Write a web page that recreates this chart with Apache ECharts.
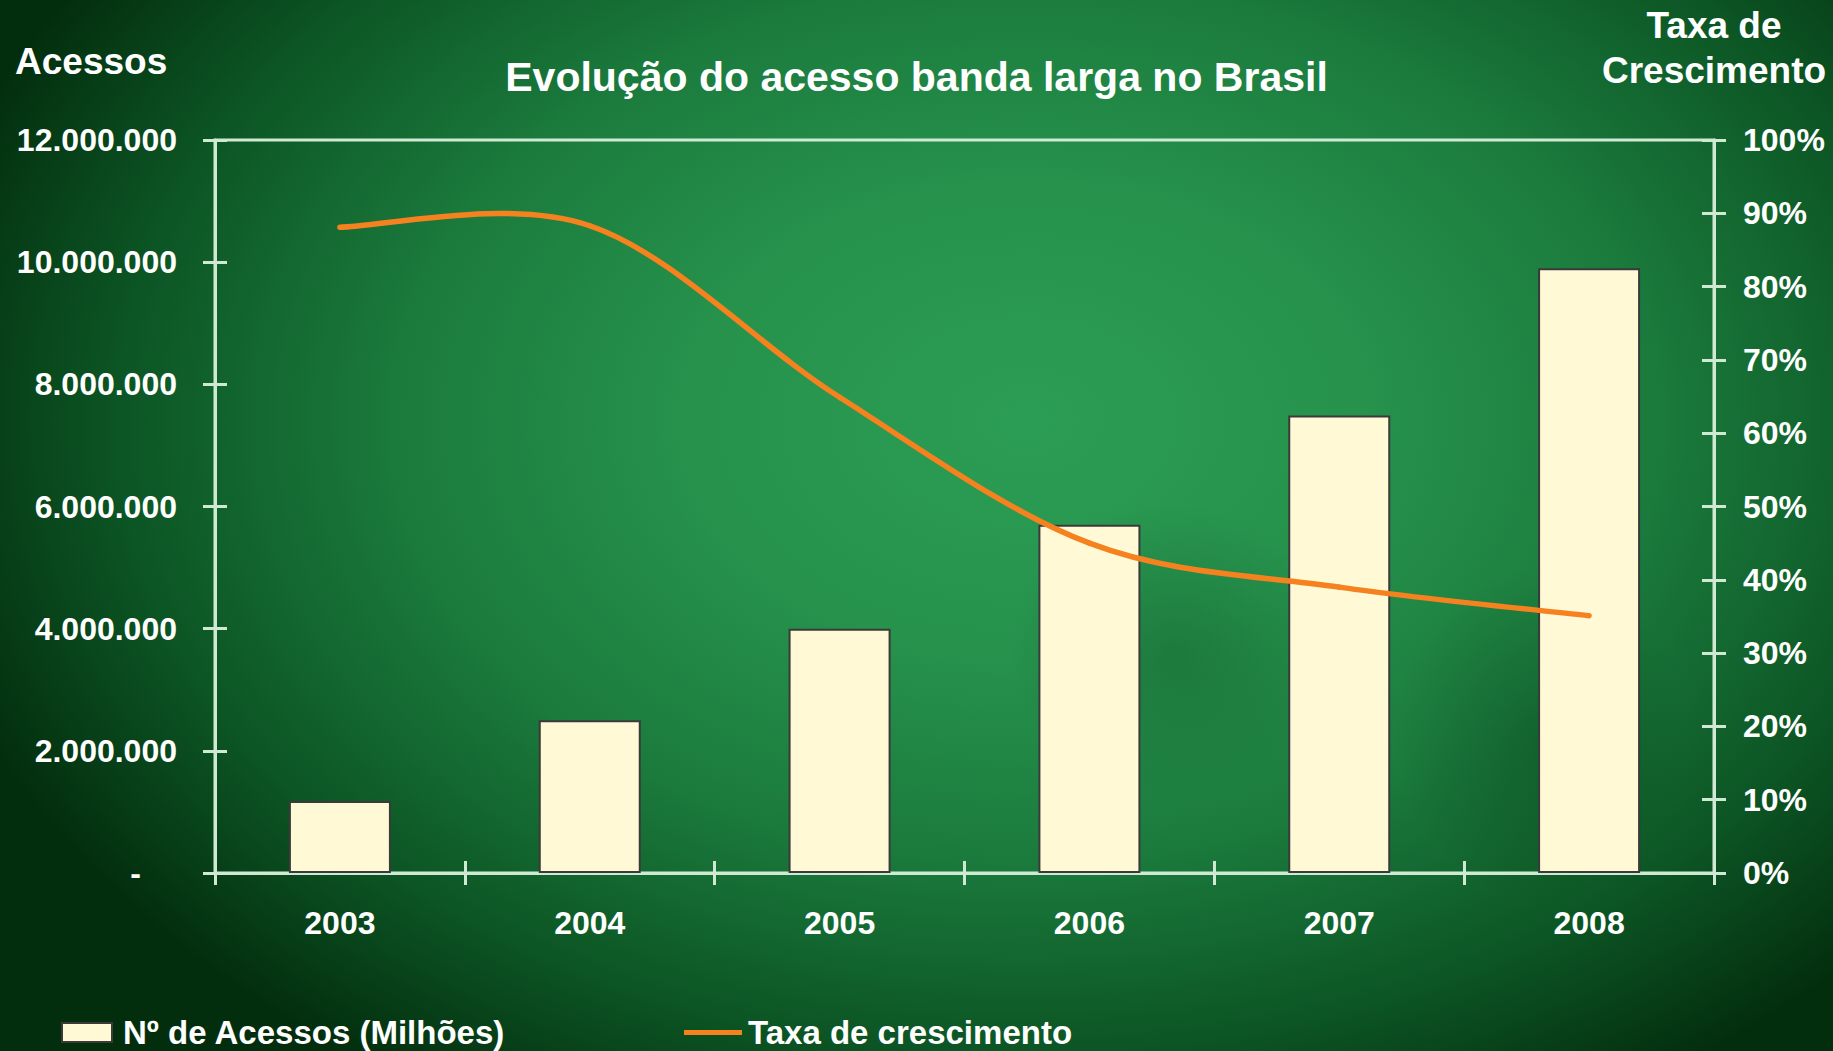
<!DOCTYPE html>
<html>
<head>
<meta charset="utf-8">
<script src="https://cdn.jsdelivr.net/npm/echarts@6/dist/echarts.min.js"></script>
<style>
html, body { margin: 0; padding: 0; }
#chart {
  width: 1833px; height: 1051px;
  background:
    radial-gradient(ellipse 9% 14% at 64% 62%, rgba(10,70,30,0.3) 0%, rgba(10,70,30,0) 100%),
    radial-gradient(ellipse 8% 16% at 84% 70%, rgba(8,60,25,0.3) 0%, rgba(8,60,25,0) 100%),
    radial-gradient(ellipse 62% 75% at 56% 40%, #2c9d54 0%, #26924c 30%, #1b7b3d 55%, #0c5524 80%, #032e0e 100%);
}
</style>
</head>
<body>
<div id="chart"></div>
<script>
// ---- data ----
var years = ['2003', '2004', '2005', '2006', '2007', '2008'];
var acessos = [1180000, 2500000, 4000000, 5700000, 7490000, 9900000];
var taxaCrescimento = [88.1, 88.3, 64.9, 45.0, 39.0, 35.1];
var leftTickLabels = ['-', '2.000.000', '4.000.000', '6.000.000', '8.000.000', '10.000.000', '12.000.000'];
var rightTickLabels = ['0%', '10%', '20%', '30%', '40%', '50%', '60%', '70%', '80%', '90%', '100%'];
var barName = 'Nº de Acessos (Milhões)';
var lineName = 'Taxa de crescimento';

var FONT = "'Liberation Sans', Arial, Helvetica, sans-serif";
var AXIS_COLOR = '#cfe9d3';
var LINE_COLOR = '#f5821f';

var chart = echarts.init(document.getElementById('chart'), null, { renderer: 'svg' });

function axisBase(extra) {
  return Object.assign({
    axisLine: { show: true, lineStyle: { color: AXIS_COLOR, width: 3 } },
    splitLine: { show: false }
  }, extra);
}

// Smoothed (Excel-like) line drawn segment by segment through the axis scales
function renderSmoothLine(params, api) {
  var n = taxaCrescimento.length;
  var i = params.dataIndex;
  if (i >= n - 1) return { type: 'group', children: [] };
  function pt(k) {
    k = Math.max(0, Math.min(n - 1, k));
    return api.coord([k, taxaCrescimento[k]]);
  }
  var p0 = pt(i - 1), p1 = pt(i), p2 = pt(i + 1), p3 = pt(i + 2);
  var c1x = p1[0] + (p2[0] - p0[0]) / 6, c1y = p1[1] + (p2[1] - p0[1]) / 6;
  var c2x = p2[0] - (p3[0] - p1[0]) / 6, c2y = p2[1] - (p3[1] - p1[1]) / 6;
  return {
    type: 'bezierCurve',
    shape: { x1: p1[0], y1: p1[1], x2: p2[0], y2: p2[1], cpx1: c1x, cpy1: c1y, cpx2: c2x, cpy2: c2y },
    style: { stroke: LINE_COLOR, lineWidth: 5.5, fill: null, lineCap: 'round', lineJoin: 'round' }
  };
}

var option = {
  backgroundColor: 'transparent',
  animation: false,
  title: {
    text: 'Evolução do acesso banda larga no Brasil',
    left: 'center',
    top: 56,
    padding: 0,
    textStyle: { color: '#ffffff', fontFamily: FONT, fontWeight: 'bold', fontSize: 41 }
  },
  graphic: [
    { type: 'text', x: 15, y: 61, style: { text: 'Acessos', fill: '#ffffff', font: 'bold 37px ' + FONT, textAlign: 'left', textVerticalAlign: 'middle' } },
    { type: 'text', x: 1714, y: 25.5, style: { text: 'Taxa de', fill: '#ffffff', font: 'bold 37px ' + FONT, textAlign: 'center', textVerticalAlign: 'middle' } },
    { type: 'text', x: 1714, y: 70, style: { text: 'Crescimento', fill: '#ffffff', font: 'bold 37px ' + FONT, textAlign: 'center', textVerticalAlign: 'middle' } }
  ],
  grid: {
    left: 215, right: 119, top: 140, bottom: 178,
    show: true, borderColor: AXIS_COLOR, borderWidth: 3, backgroundColor: 'transparent'
  },
  legend: [
    {
      data: [{ name: barName, icon: 'rect' }], left: 61, top: 1016, padding: 0,
      itemWidth: 50, itemHeight: 19,
      textStyle: { color: '#ffffff', fontFamily: FONT, fontWeight: 'bold', fontSize: 33, padding: [0, 0, 0, 6] }
    },
    {
      data: [{ name: lineName, icon: 'path://M0,0 L58,0 L58,5 L0,5 Z', itemStyle: { color: LINE_COLOR } }],
      left: 684, top: 1016, padding: 0,
      itemWidth: 58, itemHeight: 19,
      textStyle: { color: '#ffffff', fontFamily: FONT, fontWeight: 'bold', fontSize: 33, padding: [0, 0, 0, 1] }
    }
  ],
  xAxis: [
    axisBase({
      type: 'category', data: years, position: 'bottom',
      axisTick: { show: true, length: 12, lineStyle: { color: AXIS_COLOR, width: 3 } },
      axisLabel: { color: '#ffffff', fontFamily: FONT, fontWeight: 'bold', fontSize: 32, margin: 34 }
    }),
    axisBase({
      type: 'category', data: years, position: 'bottom',
      axisLine: { show: false },
      axisTick: { show: true, inside: true, length: 12, lineStyle: { color: AXIS_COLOR, width: 3 } },
      axisLabel: { show: false }
    })
  ],
  yAxis: [
    axisBase({
      type: 'value', min: 0, max: 12000000, interval: 2000000, position: 'left',
      axisTick: { show: true, length: 12, lineStyle: { color: AXIS_COLOR, width: 3 } },
      axisLabel: {
        color: '#ffffff', fontFamily: FONT, fontWeight: 'bold', fontSize: 32, margin: 38,
        formatter: function (v, i) { return i === 0 ? '{d|' + leftTickLabels[0] + '}' : leftTickLabels[i]; },
        rich: { d: { color: '#ffffff', fontFamily: FONT, fontWeight: 'bold', fontSize: 32, padding: [0, 36, 0, 0] } }
      }
    }),
    axisBase({
      type: 'value', min: 0, max: 100, interval: 10, position: 'right',
      axisTick: { show: true, length: 12, lineStyle: { color: AXIS_COLOR, width: 3 } },
      axisLabel: {
        color: '#ffffff', fontFamily: FONT, fontWeight: 'bold', fontSize: 32, margin: 29,
        formatter: function (v, i) { return rightTickLabels[i]; }
      }
    }),
    axisBase({
      type: 'value', min: 0, max: 12000000, interval: 2000000, position: 'left',
      axisLine: { show: false },
      axisTick: { show: true, inside: true, length: 12, lineStyle: { color: AXIS_COLOR, width: 3 } },
      axisLabel: { show: false }
    }),
    axisBase({
      type: 'value', min: 0, max: 100, interval: 10, position: 'right',
      axisLine: { show: false },
      axisTick: { show: true, inside: true, length: 12, lineStyle: { color: AXIS_COLOR, width: 3 } },
      axisLabel: { show: false }
    })
  ],
  series: [
    {
      name: barName, type: 'bar', xAxisIndex: 0, yAxisIndex: 0,
      data: acessos, barWidth: 102,
      itemStyle: { color: '#fff9d6', borderColor: '#3a3a3a', borderWidth: 2 }
    },
    {
      name: lineName, type: 'custom', xAxisIndex: 0, yAxisIndex: 1, z: 5,
      data: taxaCrescimento.map(function (v, i) { return [i, v]; }),
      encode: { x: 0, y: 1 },
      itemStyle: { color: LINE_COLOR },
      renderItem: renderSmoothLine
    }
  ]
};
chart.setOption(option);
</script>
</body>
</html>
